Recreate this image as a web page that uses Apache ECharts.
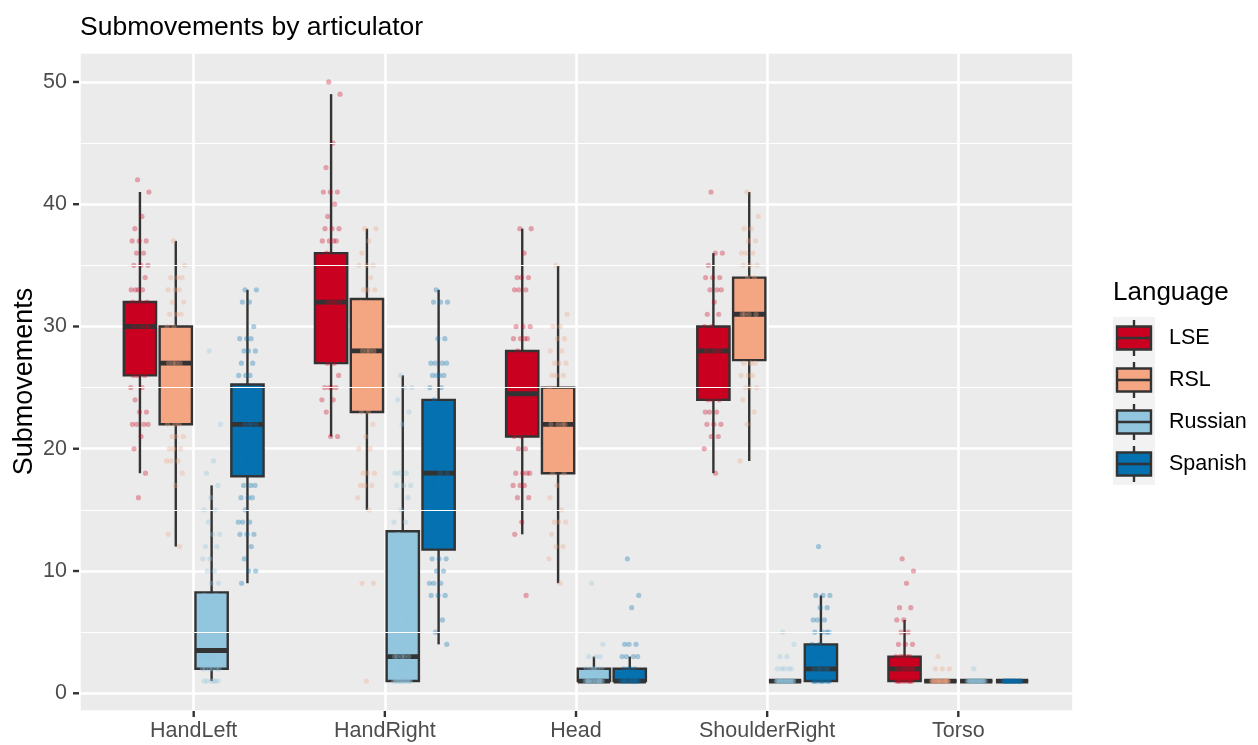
<!DOCTYPE html>
<html>
<head>
<meta charset="utf-8">
<script src="https://cdn.jsdelivr.net/npm/echarts@6/dist/echarts.min.js"></script>
<style>
  html, body { margin: 0; padding: 0; background: #ffffff; }
  #chart { width: 1258px; height: 745px; }
</style>
</head>
<body>
<div id="chart"></div>
<script>
// ---- data -------------------------------------------------------------
const articulators = ['HandLeft', 'HandRight', 'Head', 'ShoulderRight', 'Torso'];
const languages = ['LSE', 'RSL', 'Russian', 'Spanish'];
const yTicks = [0, 10, 20, 30, 40, 50];
const yMinorLines = [5, 15, 25, 35, 45];

// box summaries per articulator: [lower whisker, Q1, median, Q3, upper whisker]
const boxLSE = [[18, 26, 30, 32, 41], [21, 27, 32, 36, 49], [13, 21, 24.5, 28, 38], [18, 24, 28, 30, 36], [1, 1, 2, 3, 6]];
const boxRSL = [[12, 22, 27, 30, 37], [15, 23, 28, 32.25, 38], [9, 18, 22, 25, 35], [19, 27.25, 31, 34, 41], [1, 1, 1, 1, 1]];
const boxRussian = [[1, 2, 3.5, 8.25, 17], [1, 1, 3, 13.25, 26], [1, 1, 1, 2, 3], [1, 1, 1, 1, 1], [1, 1, 1, 1, 1]];
const boxSpanish = [[9, 17.75, 22, 25.25, 33], [4, 11.75, 18, 24, 33], [1, 1, 1, 2, 3], [1, 1, 2, 4, 8], [1, 1, 1, 1, 1]];

// individual observations per articulator
const ptsLSE = [
  [42,41,39,38,37,37,37,36,36,35,35,35,34,33,33,33,33,32,32,32,31,31,30,30,30,30,29,29,28,28,27,27,26,26,26,25,25,24,23,23,22,22,22,22,21,20,18,16],
  [50,49,45,43,41,41,41,40,39,38,38,38,37,37,37,37,36,35,34,33,32,32,32,32,31,30,29,28,27,27,26,25,25,25,25,24,24,23,21,21],
  [38,38,36,34,34,34,33,33,33,30,30,30,29,29,29,29,28,27,26,25,25,24,24,23,22,22,21,21,20,20,18,18,18,18,17,17,17,16,16,14,13,8],
  [41,36,36,35,34,34,34,33,33,33,32,31,31,30,30,29,29,28,28,28,28,27,26,25,24,24,24,23,23,23,22,22,22,21,21,20,18],
  [11,10,9,7,7,6,6,5,5,4,4,4,3,3,3,3,3,2,2,2,2,2,2,2,1,1,1,1,1,1,1,1,1,1]
];
const ptsRSL = [
  [37,35,34,34,34,33,33,33,32,32,31,31,31,30,30,29,28,28,27,27,27,27,26,25,24,23,22,22,22,21,21,21,20,20,20,19,19,19,18,17,13,12],
  [38,38,37,36,35,35,35,34,33,33,33,32,31,30,29,28,28,28,28,27,26,25,24,23,23,22,21,20,20,18,18,18,17,17,17,16,15,9,9,1],
  [35,31,30,30,29,29,28,28,27,27,27,26,26,26,25,24,23,22,22,22,22,21,20,19,18,18,17,16,15,14,14,14,13,12,12,11,9],
  [41,39,38,38,37,37,36,36,36,35,35,35,34,34,33,32,31,31,31,31,30,29,28,27,27,27,26,26,26,25,25,25,24,23,22,19],
  [3,2,2,2,1,1,1,1,1,1,1,1,1,1,1,1,1,1,1,1,1,1]
];
const ptsRussian = [
  [28,22,19,18,17,16,15,15,14,13,13,12,12,11,11,10,10,9,9,8,8,7,6,5,4,4,3,3,3,3,2,2,2,2,2,2,1,1,1,1,1,1],
  [26,25,25,24,23,22,18,18,18,17,17,17,16,15,14,14,13,12,10,8,6,5,4,3,3,3,3,3,2,2,1,1,1,1,1,1,1,1,1,1,1,1,1],
  [9,4,3,3,3,2,2,2,2,2,2,1,1,1,1,1,1,1,1,1,1,1,1,1,1,1],
  [5,4,3,3,2,2,2,2,2,1,1,1,1,1,1,1,1,1,1,1,1,1,1,1,1,1,1,1,1,1],
  [2,1,1,1,1,1,1,1,1,1,1,1,1,1,1,1,1,1,1,1,1,1]
];
const ptsSpanish = [
  [33,33,32,32,30,29,29,29,28,28,28,27,27,26,26,26,25,25,24,23,22,22,22,22,21,20,19,18,17,17,17,16,16,16,15,14,14,14,13,13,13,12,11,10,10,9],
  [33,32,32,32,29,29,27,27,27,27,26,26,26,26,25,25,24,23,22,21,20,19,18,18,17,16,15,14,13,12,11,11,11,10,10,9,9,9,8,8,8,6,5,4],
  [11,8,7,4,4,4,3,3,3,3,2,2,2,2,1,1,1,1,1,1,1,1,1,1,1,1],
  [12,8,8,8,7,7,6,6,6,5,5,5,5,4,4,3,3,2,2,2,2,2,1,1,1,1,1,1,1,1,1,1,1],
  [1,1,1,1,1,1,1,1,1,1,1,1,1,1,1,1,1,1,1,1]
];

// ---- styling ----------------------------------------------------------
const colors = ['#CA0020', '#F4A582', '#92C5DE', '#0571B0'];
const FONT = '"Liberation Sans", Arial, Helvetica, sans-serif';
const OUTLINE = '#333333';
const X_MIN = -0.6, X_MAX = 4.6, Y_MIN = -1.45, Y_MAX = 52.45;
const DODGE = 0.75;                       // total dodge width per articulator
const SLOT = DODGE / languages.length;    // width reserved per language
const BOX_HALF = SLOT * 0.9 / 2;          // half box width (10% padding)
const JITTER = 0.048;                     // horizontal jitter half-range
const TICK_LEN = 6;

const boxes = [boxLSE, boxRSL, boxRussian, boxSpanish];
const points = [ptsLSE, ptsRSL, ptsRussian, ptsSpanish];

function slotOffset(s) { return -DODGE / 2 + SLOT * (s + 0.5); }
// deterministic low-discrepancy spread for overlapping points
function jitter(i) { return (((i * 0.6180339887 + 0.37) % 1) - 0.5) * 2 * JITTER; }

function boxRenderer(s) {
  const fill = colors[s];
  return function (params, api) {
    const xc = api.value(0) + slotOffset(s);
    const lo = api.value(1), q1 = api.value(2), md = api.value(3), q3 = api.value(4), hi = api.value(5);
    const pTop = api.coord([xc - BOX_HALF, q3]);
    const pBot = api.coord([xc + BOX_HALF, q1]);
    const pMed = api.coord([xc, md]);
    const yHi = api.coord([xc, hi])[1];
    const yLo = api.coord([xc, lo])[1];
    const xm = pMed[0];
    return {
      type: 'group',
      children: [
        { type: 'line', shape: { x1: xm, y1: yHi, x2: xm, y2: pTop[1] }, style: { stroke: OUTLINE, lineWidth: 2.4 } },
        { type: 'line', shape: { x1: xm, y1: pBot[1], x2: xm, y2: yLo }, style: { stroke: OUTLINE, lineWidth: 2.4 } },
        { type: 'rect', shape: { x: pTop[0], y: pTop[1], width: pBot[0] - pTop[0], height: pBot[1] - pTop[1] },
          style: { fill: fill, stroke: OUTLINE, lineWidth: 2.4 } },
        { type: 'line', shape: { x1: pTop[0], y1: pMed[1], x2: pBot[0], y2: pMed[1] }, style: { stroke: OUTLINE, lineWidth: 4.8 } }
      ]
    };
  };
}

const series = [];

// minor horizontal grid lines
series.push({
  type: 'scatter',
  name: 'minor-grid',
  data: [],
  z: 1,
  silent: true,
  markLine: {
    silent: true,
    symbol: ['none', 'none'],
    label: { show: false },
    lineStyle: { color: '#ffffff', width: 1.2, type: 'solid' },
    emphasis: { disabled: true },
    data: yMinorLines.map(v => ({ yAxis: v }))
  }
});

// axis tick marks just outside the panel
series.push({
  type: 'custom',
  name: 'y-ticks',
  silent: true,
  clip: false,
  z: 1,
  encode: { y: 0 },
  data: yTicks.map(v => [v]),
  renderItem: function (params, api) {
    const p = api.coord([X_MIN, api.value(0)]);
    return { type: 'line', shape: { x1: p[0] - TICK_LEN, y1: p[1], x2: p[0], y2: p[1] }, style: { stroke: OUTLINE, lineWidth: 2.4 } };
  }
});
series.push({
  type: 'custom',
  name: 'x-ticks',
  silent: true,
  clip: false,
  z: 1,
  encode: { x: 0 },
  data: articulators.map((a, i) => [i]),
  renderItem: function (params, api) {
    const p = api.coord([api.value(0), Y_MIN]);
    return { type: 'line', shape: { x1: p[0], y1: p[1], x2: p[0], y2: p[1] + TICK_LEN }, style: { stroke: OUTLINE, lineWidth: 2.4 } };
  }
});

languages.forEach((lang, s) => {
  series.push({
    type: 'custom',
    name: lang,
    z: 2,
    renderItem: boxRenderer(s),
    encode: { x: 0, y: [1, 2, 3, 4, 5] },
    data: boxes[s].map((b, j) => [j].concat(b))
  });
});

languages.forEach((lang, s) => {
  const data = [];
  points[s].forEach((vals, j) => {
    vals.forEach((v, i) => data.push([j + slotOffset(s) + jitter(i), v]));
  });
  series.push({
    type: 'scatter',
    name: lang + ' points',
    z: 3,
    symbol: 'circle',
    symbolSize: 5.2,
    itemStyle: { color: colors[s], opacity: 0.32 },
    silent: true,
    data: data
  });
});

// legend drawn as boxplot glyphs
const LEG_X = 1113, LEG_TOP = 317, KEY = 42;
const legendGraphics = [
  { type: 'text', x: LEG_X, y: 293, style: { text: 'Language', fontSize: 26, fontFamily: FONT, fill: '#000000', verticalAlign: 'middle', align: 'left' } },
  { type: 'rect', shape: { x: LEG_X, y: LEG_TOP, width: KEY, height: KEY * languages.length }, style: { fill: '#F2F2F2' } }
];
languages.forEach((lang, s) => {
  const cy = LEG_TOP + KEY * s + KEY / 2;
  const cx = LEG_X + KEY / 2;
  legendGraphics.push(
    { type: 'line', shape: { x1: cx, y1: cy - KEY / 2 + 3, x2: cx, y2: cy + KEY / 2 - 3 }, style: { stroke: OUTLINE, lineWidth: 2.4 } },
    { type: 'rect', shape: { x: LEG_X + 4, y: cy - 11.5, width: KEY - 8, height: 23 }, style: { fill: colors[s], stroke: OUTLINE, lineWidth: 2.4 } },
    { type: 'line', shape: { x1: LEG_X + 4, y1: cy, x2: LEG_X + KEY - 4, y2: cy }, style: { stroke: OUTLINE, lineWidth: 2.4 } },
    { type: 'text', x: LEG_X + KEY + 14, y: cy, style: { text: lang, fontSize: 21.5, fontFamily: FONT, fill: '#000000', verticalAlign: 'middle', align: 'left' } }
  );
});

const chart = echarts.init(document.getElementById('chart'), null, { renderer: 'canvas' });
chart.setOption({
  animation: false,
  backgroundColor: '#ffffff',
  title: {
    text: 'Submovements by articulator',
    left: 75,
    top: 9,
    textStyle: { fontSize: 26.5, fontWeight: 'normal', color: '#000000', fontFamily: FONT }
  },
  grid: {
    left: 79, top: 52, width: 994, height: 659,
    containLabel: false,
    outerBoundsMode: 'none',
    show: true, backgroundColor: '#EBEBEB', borderWidth: 0
  },
  xAxis: {
    type: 'value',
    min: X_MIN,
    max: X_MAX,
    position: 'bottom',
    axisLine: { show: false, onZero: false },
    axisTick: { show: false },
    axisLabel: {
      customValues: articulators.map((a, i) => i),
      formatter: v => articulators[v] ?? '',
      fontSize: 21.5, color: '#4D4D4D', fontFamily: FONT, margin: 9
    },
    splitLine: { show: true, showMinLine: true, showMaxLine: true, lineStyle: { color: '#ffffff', width: 2.6 } }
  },
  yAxis: {
    type: 'value',
    min: Y_MIN,
    max: Y_MAX,
    position: 'left',
    name: 'Submovements',
    nameLocation: 'middle',
    nameGap: 41,
    nameMoveOverlap: false,
    nameTextStyle: { fontSize: 27, color: '#000000', fontFamily: FONT },
    axisLine: { show: false, onZero: false },
    axisTick: { show: false },
    axisLabel: { customValues: yTicks, fontSize: 21.5, color: '#4D4D4D', fontFamily: FONT, margin: 12 },
    splitLine: { show: true, showMinLine: true, showMaxLine: true, lineStyle: { color: '#ffffff', width: 2.6 } }
  },
  graphic: legendGraphics,
  series: series
});
</script>
</body>
</html>
